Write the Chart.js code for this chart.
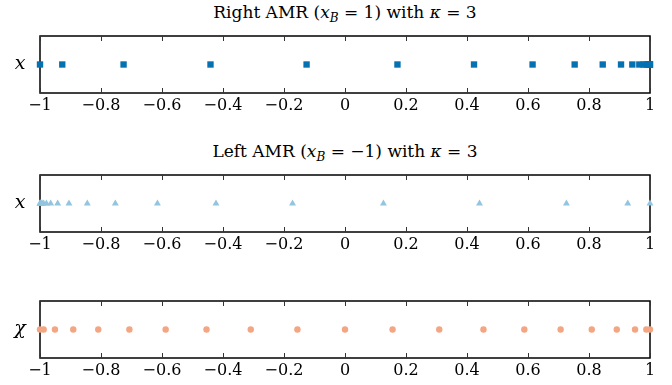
<!DOCTYPE html>
<html>
<head>
<meta charset="utf-8">
<script src="https://cdn.jsdelivr.net/npm/chart.js@4.4.0/dist/chart.umd.min.js"></script>
<style>
  body { margin: 0; background: #fff; }
  #wrap { position: relative; width: 672px; height: 385px; }
  canvas { position: absolute; left: 0; }
  .ttl { position: absolute; left: 40px; width: 610px; text-align: center;
         font: 17px "DejaVu Serif", serif; color: #000; line-height: 20px; }
</style>
</head>
<body>
<div id="wrap">
  <div class="ttl" style="top:2px">Right AMR (<i>x</i><sub style="font-size:12px"><i>B</i></sub> = 1) with <i>κ</i> = 3</div>
  <canvas id="right" width="672" height="85" style="top:30px"></canvas>
  <div class="ttl" style="top:141px">Left AMR (<i>x</i><sub style="font-size:12px"><i>B</i></sub> = −1) with <i>κ</i> = 3</div>
  <canvas id="left" width="672" height="85" style="top:169px"></canvas>
  <canvas id="chi" width="672" height="85" style="top:295px"></canvas>
</div>
<script>
// grid points
const rightX = [-1, -0.927, -0.726, -0.441, -0.126, 0.172, 0.423, 0.615, 0.753, 0.845, 0.905,
                0.942, 0.965, 0.979, 0.988, 0.993, 0.996, 0.998, 0.999, 0.9998, 1];
const leftX = [-1, -0.9998, -0.999, -0.998, -0.996, -0.993, -0.988, -0.979, -0.965, -0.942, -0.905,
               -0.845, -0.753, -0.615, -0.423, -0.172, 0.126, 0.441, 0.726, 0.927, 1];
const chi = [-1, -0.988, -0.951, -0.891, -0.809, -0.707, -0.588, -0.454, -0.309, -0.156, 0,
             0.156, 0.309, 0.454, 0.588, 0.707, 0.809, 0.891, 0.951, 0.988, 1];
const xTicks = [-1, -0.8, -0.6, -0.4, -0.2, 0, 0.2, 0.4, 0.6, 0.8, 1];

const serif = '"DejaVu Serif", serif';

// frame, inner tick marks and the y label
const boxPlugin = {
  id: 'box',
  beforeDatasetsDraw(chart, args, opts) {
    const a = chart.chartArea, c = chart.ctx, sx = chart.scales.x;
    c.save();
    c.strokeStyle = '#000';
    c.lineWidth = 1.5;
    c.strokeRect(a.left, a.top, a.right - a.left, a.bottom - a.top);
    c.lineWidth = 1;
    c.strokeStyle = '#333';
    c.beginPath();
    xTicks.forEach(t => {
      const px = Math.round(sx.getPixelForValue(t)) + 0.5;
      c.moveTo(px, a.top); c.lineTo(px, a.top + 5);
      c.moveTo(px, a.bottom); c.lineTo(px, a.bottom - 5);
    });
    c.stroke();
    c.fillStyle = '#000';
    c.font = 'italic 19px ' + serif;
    c.textAlign = 'center';
    c.textBaseline = 'middle';
    c.fillText(opts.label, 20, (a.top + a.bottom) / 2);
    c.restore();
  }
};

function strip(id, xs, label, color, shape, radius) {
  return new Chart(document.getElementById(id), {
    type: 'scatter',
    data: {
      datasets: [{
        data: xs.map(v => ({ x: v, y: 0 })),
        pointStyle: shape,
        pointRadius: radius,
        pointHoverRadius: radius,
        backgroundColor: color,
        borderColor: color,
        borderWidth: 0,
        clip: false
      }]
    },
    options: {
      responsive: false,
      animation: false,
      layout: { padding: { top: 6, right: 22, bottom: 0, left: 40 } },
      plugins: { legend: { display: false }, tooltip: { enabled: false }, box: { label: label } },
      scales: {
        x: {
          type: 'linear', min: -1, max: 1,
          afterBuildTicks: s => { s.ticks = xTicks.map(v => ({ value: v })); },
          afterFit: s => { s.height = 22; },
          grid: { display: false, drawTicks: false },
          border: { display: false },
          ticks: {
            padding: 3,
            color: '#000',
            font: { family: serif, size: 16 },
            maxRotation: 0,
            callback: v => {
              const s = parseFloat(v.toFixed(1)).toString();
              return s.startsWith('-') ? '\u2212' + s.slice(1) : s;
            }
          }
        },
        y: { display: false, min: -1, max: 1 }
      }
    },
    plugins: [boxPlugin]
  });
}

strip('right', rightX, 'x', '#0571b0', 'rect', 4.5);
strip('left', leftX, 'x', '#92c5de', 'triangle', 4);
strip('chi', chi, 'χ', '#f4a582', 'circle', 3.2);
</script>
</body>
</html>
